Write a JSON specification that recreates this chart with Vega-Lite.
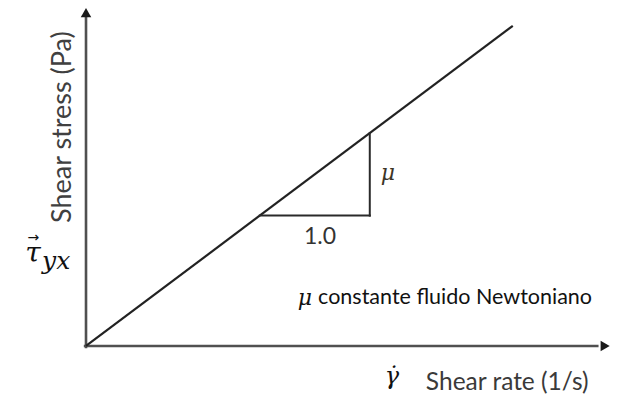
{
  "$schema": "https://vega.github.io/schema/vega-lite/v6.json",
  "width": 620,
  "height": 400,
  "autosize": {"type": "fit", "contains": "padding"},
  "padding": 0,
  "background": "white",
  "config": {"view": {"stroke": null}},
  "datasets": {
    "axes": [
      {"x": 0, "y": -0.02, "x2": 0, "y2": 3.0},
      {"x": -0.02, "y": 0, "x2": 4.66, "y2": 0}
    ],
    "flow": [
      {"x": 0, "y": 0, "x2": 3.88, "y2": 2.91}
    ],
    "slope": [
      {"x": 1.58, "y": 1.185, "x2": 2.58, "y2": 1.185},
      {"x": 2.58, "y": 1.185, "x2": 2.58, "y2": 1.935}
    ],
    "heads": [
      {"x": 0, "y": 3.03, "dir": "up"},
      {"x": 4.72, "y": 0, "dir": "right"}
    ],
    "labels": [
      {"kind": "ytitle", "x": -0.21, "y": 1.99, "text": "Shear stress (Pa)"},
      {"kind": "xtitle", "x": 3.09, "y": -0.336, "text": "Shear rate (1/s)"},
      {"kind": "gamma", "x": 2.782, "y": -0.282, "text": "γ̇"},
      {"kind": "tau", "x": -0.482, "y": 0.836, "text": "τ"},
      {"kind": "vec", "x": -0.478, "y": 0.985, "text": "→"},
      {"kind": "sub", "x": -0.40, "y": 0.77, "text": "yx"},
      {"kind": "mu", "x": 1.99, "y": 0.436, "text": "μ"},
      {"kind": "note", "x": 2.11, "y": 0.436, "text": "constante fluido Newtoniano"},
      {"kind": "mulabel", "x": 2.745, "y": 1.573, "text": "μ"},
      {"kind": "run", "x": 2.127, "y": 0.99, "text": "1.0"}
    ]
  },
  "layer": [
    {
      "data": {"name": "axes"},
      "mark": {"type": "rule", "color": "#505050", "strokeWidth": 2.6},
      "encoding": {
        "x": {"field": "x", "type": "quantitative", "scale": {"domain": [-0.782, 4.855], "nice": false, "zero": false}, "axis": null},
        "y": {"field": "y", "type": "quantitative", "scale": {"domain": [-0.491, 3.145], "nice": false, "zero": false}, "axis": null},
        "x2": {"field": "x2"},
        "y2": {"field": "y2"}
      }
    },
    {
      "data": {"name": "flow"},
      "mark": {"type": "rule", "color": "#222222", "strokeWidth": 2.2},
      "encoding": {
        "x": {"field": "x", "type": "quantitative"},
        "y": {"field": "y", "type": "quantitative"},
        "x2": {"field": "x2"},
        "y2": {"field": "y2"}
      }
    },
    {
      "data": {"name": "slope"},
      "mark": {"type": "rule", "color": "#2a2a2a", "strokeWidth": 2, "strokeCap": "square"},
      "encoding": {
        "x": {"field": "x", "type": "quantitative"},
        "y": {"field": "y", "type": "quantitative"},
        "x2": {"field": "x2"},
        "y2": {"field": "y2"}
      }
    },
    {
      "data": {"name": "heads"},
      "transform": [{"filter": "datum.dir === 'up'"}],
      "mark": {"type": "point", "shape": "triangle-up", "filled": true, "color": "#1a1a1a", "opacity": 1, "size": 110},
      "encoding": {
        "x": {"field": "x", "type": "quantitative"},
        "y": {"field": "y", "type": "quantitative"}
      }
    },
    {
      "data": {"name": "heads"},
      "transform": [{"filter": "datum.dir === 'right'"}],
      "mark": {"type": "point", "shape": "triangle-right", "filled": true, "color": "#1a1a1a", "opacity": 1, "size": 110},
      "encoding": {
        "x": {"field": "x", "type": "quantitative"},
        "y": {"field": "y", "type": "quantitative"}
      }
    },
    {
      "data": {"name": "labels"},
      "transform": [{"filter": "datum.kind === 'ytitle'"}],
      "mark": {"type": "text", "font": "Lato", "fontSize": 27, "angle": 270, "align": "center", "baseline": "middle", "color": "#404040"},
      "encoding": {
        "x": {"field": "x", "type": "quantitative"},
        "y": {"field": "y", "type": "quantitative"},
        "text": {"field": "text"}
      }
    },
    {
      "data": {"name": "labels"},
      "transform": [{"filter": "datum.kind === 'xtitle'"}],
      "mark": {"type": "text", "font": "Lato", "fontSize": 24.5, "align": "left", "baseline": "middle", "color": "#3a3a3a"},
      "encoding": {
        "x": {"field": "x", "type": "quantitative"},
        "y": {"field": "y", "type": "quantitative"},
        "text": {"field": "text"}
      }
    },
    {
      "data": {"name": "labels"},
      "transform": [{"filter": "datum.kind === 'gamma'"}],
      "mark": {"type": "text", "font": "DejaVu Serif", "fontStyle": "italic", "fontSize": 24, "align": "center", "baseline": "middle", "color": "#111111"},
      "encoding": {
        "x": {"field": "x", "type": "quantitative"},
        "y": {"field": "y", "type": "quantitative"},
        "text": {"field": "text"}
      }
    },
    {
      "data": {"name": "labels"},
      "transform": [{"filter": "datum.kind === 'tau'"}],
      "mark": {"type": "text", "font": "DejaVu Serif", "fontStyle": "italic", "fontSize": 28, "align": "center", "baseline": "middle", "color": "#111111"},
      "encoding": {
        "x": {"field": "x", "type": "quantitative"},
        "y": {"field": "y", "type": "quantitative"},
        "text": {"field": "text"}
      }
    },
    {
      "data": {"name": "labels"},
      "transform": [{"filter": "datum.kind === 'vec'"}],
      "mark": {"type": "text", "font": "DejaVu Sans", "fontSize": 14, "align": "center", "baseline": "middle", "color": "#111111"},
      "encoding": {
        "x": {"field": "x", "type": "quantitative"},
        "y": {"field": "y", "type": "quantitative"},
        "text": {"field": "text"}
      }
    },
    {
      "data": {"name": "labels"},
      "transform": [{"filter": "datum.kind === 'sub'"}],
      "mark": {"type": "text", "font": "DejaVu Serif", "fontStyle": "italic", "fontSize": 25, "align": "left", "baseline": "middle", "color": "#111111"},
      "encoding": {
        "x": {"field": "x", "type": "quantitative"},
        "y": {"field": "y", "type": "quantitative"},
        "text": {"field": "text"}
      }
    },
    {
      "data": {"name": "labels"},
      "transform": [{"filter": "datum.kind === 'mu'"}],
      "mark": {"type": "text", "font": "DejaVu Serif", "fontStyle": "italic", "fontSize": 22, "align": "center", "baseline": "middle", "color": "#111111"},
      "encoding": {
        "x": {"field": "x", "type": "quantitative"},
        "y": {"field": "y", "type": "quantitative"},
        "text": {"field": "text"}
      }
    },
    {
      "data": {"name": "labels"},
      "transform": [{"filter": "datum.kind === 'note'"}],
      "mark": {"type": "text", "font": "Lato", "fontSize": 21.5, "align": "left", "baseline": "middle", "color": "#111111"},
      "encoding": {
        "x": {"field": "x", "type": "quantitative"},
        "y": {"field": "y", "type": "quantitative"},
        "text": {"field": "text"}
      }
    },
    {
      "data": {"name": "labels"},
      "transform": [{"filter": "datum.kind === 'mulabel'"}],
      "mark": {"type": "text", "font": "DejaVu Serif", "fontStyle": "italic", "fontSize": 22, "align": "center", "baseline": "middle", "color": "#3d3526"},
      "encoding": {
        "x": {"field": "x", "type": "quantitative"},
        "y": {"field": "y", "type": "quantitative"},
        "text": {"field": "text"}
      }
    },
    {
      "data": {"name": "labels"},
      "transform": [{"filter": "datum.kind === 'run'"}],
      "mark": {"type": "text", "font": "Lato", "fontSize": 23, "align": "center", "baseline": "middle", "color": "#333333"},
      "encoding": {
        "x": {"field": "x", "type": "quantitative"},
        "y": {"field": "y", "type": "quantitative"},
        "text": {"field": "text"}
      }
    }
  ]
}
